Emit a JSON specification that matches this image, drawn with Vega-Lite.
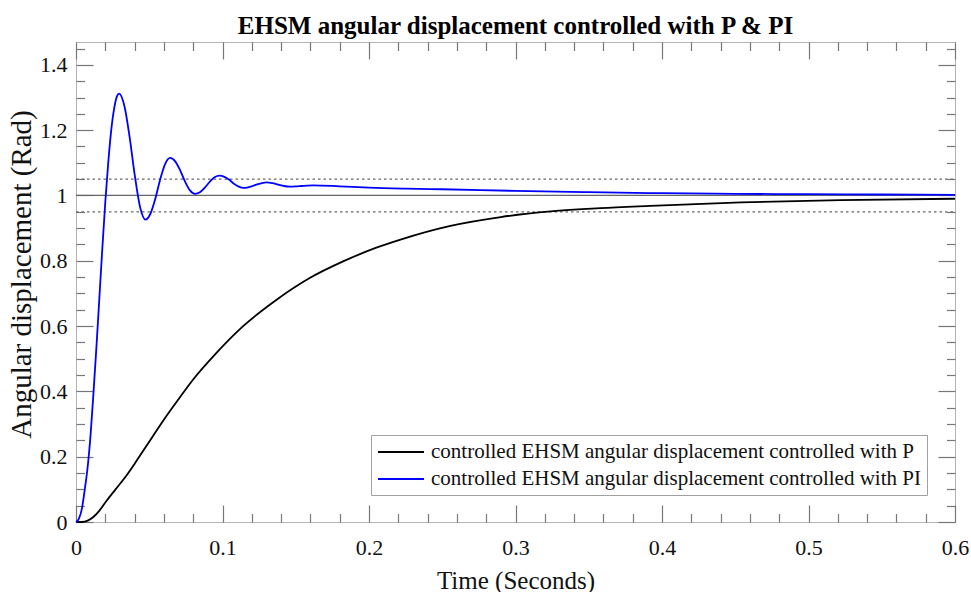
{
  "$schema": "https://vega.github.io/schema/vega-lite/v6.json",
  "width": 879,
  "height": 480,
  "autosize": "none",
  "padding": {"left": 76, "top": 42, "right": 16, "bottom": 70},
  "background": "white",
  "config": {"view": {"stroke": "#b4b4b4", "strokeWidth": 1}, "font": "Liberation Serif"},
  "title": {"text": "EHSM angular displacement controlled with P & PI", "font": "Liberation Serif", "fontSize": 25, "fontWeight": "bold", "color": "#000000", "anchor": "middle", "baseline": "alphabetic", "offset": 9, "dy": 30},
  "datasets": {
    "refs": [
      {"v": 0.95, "style": "dotted"},
      {"v": 1.0, "style": "solid"},
      {"v": 1.05, "style": "dotted"}
    ],
    "curves": [
      {"s": "P", "t": 0, "v": 0},
      {"s": "P", "t": 0.004, "v": 0},
      {"s": "P", "t": 0.008, "v": 0.004},
      {"s": "P", "t": 0.012, "v": 0.016},
      {"s": "P", "t": 0.016, "v": 0.035},
      {"s": "P", "t": 0.0205, "v": 0.063},
      {"s": "P", "t": 0.027, "v": 0.1},
      {"s": "P", "t": 0.0342, "v": 0.141},
      {"s": "P", "t": 0.041, "v": 0.185},
      {"s": "P", "t": 0.0478, "v": 0.231},
      {"s": "P", "t": 0.0615, "v": 0.323},
      {"s": "P", "t": 0.07, "v": 0.376},
      {"s": "P", "t": 0.0797, "v": 0.435},
      {"s": "P", "t": 0.0957, "v": 0.517},
      {"s": "P", "t": 0.1139, "v": 0.599},
      {"s": "P", "t": 0.1367, "v": 0.68},
      {"s": "P", "t": 0.1595, "v": 0.747},
      {"s": "P", "t": 0.1823, "v": 0.798},
      {"s": "P", "t": 0.205, "v": 0.84},
      {"s": "P", "t": 0.2215, "v": 0.865},
      {"s": "P", "t": 0.2556, "v": 0.907},
      {"s": "P", "t": 0.29, "v": 0.934},
      {"s": "P", "t": 0.324, "v": 0.951},
      {"s": "P", "t": 0.358, "v": 0.961},
      {"s": "P", "t": 0.392, "v": 0.968},
      {"s": "P", "t": 0.454, "v": 0.979},
      {"s": "P", "t": 0.522, "v": 0.986},
      {"s": "P", "t": 0.6, "v": 0.99},
      {"s": "PI", "t": 0, "v": 0},
      {"s": "PI", "t": 0.002, "v": 0.01},
      {"s": "PI", "t": 0.004, "v": 0.04},
      {"s": "PI", "t": 0.006, "v": 0.1},
      {"s": "PI", "t": 0.008, "v": 0.17},
      {"s": "PI", "t": 0.01, "v": 0.27},
      {"s": "PI", "t": 0.012, "v": 0.4},
      {"s": "PI", "t": 0.014, "v": 0.54},
      {"s": "PI", "t": 0.016, "v": 0.69},
      {"s": "PI", "t": 0.018, "v": 0.84},
      {"s": "PI", "t": 0.02, "v": 0.98},
      {"s": "PI", "t": 0.022, "v": 1.1},
      {"s": "PI", "t": 0.024, "v": 1.198},
      {"s": "PI", "t": 0.026, "v": 1.265},
      {"s": "PI", "t": 0.028, "v": 1.304},
      {"s": "PI", "t": 0.0294, "v": 1.312},
      {"s": "PI", "t": 0.033, "v": 1.275},
      {"s": "PI", "t": 0.0366, "v": 1.179},
      {"s": "PI", "t": 0.0402, "v": 1.059},
      {"s": "PI", "t": 0.0438, "v": 0.963},
      {"s": "PI", "t": 0.0474, "v": 0.926},
      {"s": "PI", "t": 0.0508, "v": 0.944},
      {"s": "PI", "t": 0.0542, "v": 0.991},
      {"s": "PI", "t": 0.0575, "v": 1.05},
      {"s": "PI", "t": 0.0609, "v": 1.097},
      {"s": "PI", "t": 0.0643, "v": 1.115},
      {"s": "PI", "t": 0.0677, "v": 1.1045},
      {"s": "PI", "t": 0.0711, "v": 1.077},
      {"s": "PI", "t": 0.0744, "v": 1.043},
      {"s": "PI", "t": 0.0778, "v": 1.0155},
      {"s": "PI", "t": 0.0812, "v": 1.005},
      {"s": "PI", "t": 0.0846, "v": 1.01},
      {"s": "PI", "t": 0.0879, "v": 1.024},
      {"s": "PI", "t": 0.0913, "v": 1.042},
      {"s": "PI", "t": 0.0946, "v": 1.056},
      {"s": "PI", "t": 0.098, "v": 1.061},
      {"s": "PI", "t": 0.1013, "v": 1.057},
      {"s": "PI", "t": 0.1046, "v": 1.048},
      {"s": "PI", "t": 0.1078, "v": 1.036},
      {"s": "PI", "t": 0.1111, "v": 1.027},
      {"s": "PI", "t": 0.1144, "v": 1.023},
      {"s": "PI", "t": 0.1175, "v": 1.025},
      {"s": "PI", "t": 0.1206, "v": 1.029},
      {"s": "PI", "t": 0.1238, "v": 1.034},
      {"s": "PI", "t": 0.1269, "v": 1.038},
      {"s": "PI", "t": 0.13, "v": 1.04},
      {"s": "PI", "t": 0.134, "v": 1.038},
      {"s": "PI", "t": 0.138, "v": 1.0335},
      {"s": "PI", "t": 0.142, "v": 1.029},
      {"s": "PI", "t": 0.146, "v": 1.027},
      {"s": "PI", "t": 0.15, "v": 1.0276},
      {"s": "PI", "t": 0.154, "v": 1.029},
      {"s": "PI", "t": 0.158, "v": 1.0304},
      {"s": "PI", "t": 0.162, "v": 1.031},
      {"s": "PI", "t": 0.18, "v": 1.028},
      {"s": "PI", "t": 0.2, "v": 1.024},
      {"s": "PI", "t": 0.225, "v": 1.021},
      {"s": "PI", "t": 0.25, "v": 1.019},
      {"s": "PI", "t": 0.3, "v": 1.014},
      {"s": "PI", "t": 0.35, "v": 1.01},
      {"s": "PI", "t": 0.4, "v": 1.007},
      {"s": "PI", "t": 0.45, "v": 1.005},
      {"s": "PI", "t": 0.5, "v": 1.004},
      {"s": "PI", "t": 0.55, "v": 1.003},
      {"s": "PI", "t": 0.6, "v": 1.002}
    ]
  },
  "layer": [
    {
      "data": {"name": "refs"},
      "mark": {"type": "rule", "color": "#666666", "strokeWidth": 1.3},
      "encoding": {
        "y": {
          "field": "v", "type": "quantitative",
          "scale": {"domain": [0, 1.47], "nice": false, "zero": false},
          "axis": {
            "orient": "right", "title": null, "labels": false, "domain": false, "grid": false,
            "values": [0,0.05,0.1,0.15,0.2,0.25,0.3,0.35,0.4,0.45,0.5,0.55,0.6,0.65,0.7,0.75,0.8,0.85,0.9,0.95,1,1.05,1.1,1.15,1.2,1.25,1.3,1.35,1.4,1.45],
            "tickColor": "#777777", "tickWidth": 1.2,
            "tickSize": {"condition": {"test": "abs(datum.value*5-round(datum.value*5))<0.001", "value": -17}, "value": -8.5}
          }
        },
        "x": {
          "datum": 0, "type": "quantitative",
          "scale": {"domain": [0, 0.6], "nice": false, "zero": false},
          "axis": {
            "orient": "top", "title": null, "labels": false, "domain": false, "grid": false,
            "values": [0,0.02,0.04,0.06,0.08,0.1,0.12,0.14,0.16,0.18,0.2,0.22,0.24,0.26,0.28,0.3,0.32,0.34,0.36,0.38,0.4,0.42,0.44,0.46,0.48,0.5,0.52,0.54,0.56,0.58,0.6],
            "tickColor": "#777777", "tickWidth": 1.2,
            "tickSize": {"condition": {"test": "abs(datum.value*10-round(datum.value*10))<0.001", "value": -17}, "value": -8.5}
          }
        },
        "x2": {"datum": 0.6},
        "strokeDash": {
          "field": "style", "type": "nominal",
          "scale": {"domain": ["solid", "dotted"], "range": [[1, 0], [2.5, 3]]},
          "legend": null
        }
      }
    },
    {
      "data": {"name": "curves"},
      "mark": {"type": "line", "strokeWidth": 1.8, "interpolate": "monotone"},
      "encoding": {
        "x": {
          "field": "t", "type": "quantitative",
          "scale": {"domain": [0, 0.6], "nice": false, "zero": false},
          "axis": {
            "orient": "bottom", "title": "Time (Seconds)", "domain": false, "grid": false,
            "values": [0,0.02,0.04,0.06,0.08,0.1,0.12,0.14,0.16,0.18,0.2,0.22,0.24,0.26,0.28,0.3,0.32,0.34,0.36,0.38,0.4,0.42,0.44,0.46,0.48,0.5,0.52,0.54,0.56,0.58,0.6],
            "format": "~g",
            "labelExpr": "abs(datum.value*10-round(datum.value*10))<0.001 ? datum.label : ''",
            "labelFont": "Liberation Serif", "labelFontSize": 22, "labelColor": "#111111",
            "labelPadding": 32, "labelFlush": false, "labelOverlap": false, "labelBound": false,
            "tickColor": "#777777", "tickWidth": 1.2,
            "tickSize": {"condition": {"test": "abs(datum.value*10-round(datum.value*10))<0.001", "value": -17}, "value": -8.5},
            "titleFont": "Liberation Serif", "titleFontSize": 25, "titleFontWeight": "normal", "titleColor": "#111111",
            "titleY": 46
          }
        },
        "y": {
          "field": "v", "type": "quantitative",
          "scale": {"domain": [0, 1.47], "nice": false, "zero": false},
          "axis": {
            "orient": "left", "title": "Angular displacement (Rad)", "domain": false, "grid": false,
            "values": [0,0.05,0.1,0.15,0.2,0.25,0.3,0.35,0.4,0.45,0.5,0.55,0.6,0.65,0.7,0.75,0.8,0.85,0.9,0.95,1,1.05,1.1,1.15,1.2,1.25,1.3,1.35,1.4,1.45],
            "format": "~g",
            "labelExpr": "abs(datum.value*5-round(datum.value*5))<0.001 ? datum.label : ''",
            "labelFont": "Liberation Serif", "labelFontSize": 22, "labelColor": "#111111",
            "labelPadding": 26, "labelOverlap": false, "labelBound": false, "labelFlush": false,
            "tickColor": "#777777", "tickWidth": 1.2,
            "tickSize": {"condition": {"test": "abs(datum.value*5-round(datum.value*5))<0.001", "value": -17}, "value": -8.5},
            "titleFont": "Liberation Serif", "titleFontSize": 29, "titleFontWeight": "normal", "titleColor": "#111111",
            "titleBaseline": "alphabetic", "titleX": -46, "titleY": 232
          }
        },
        "color": {
          "field": "s", "type": "nominal",
          "scale": {"domain": ["P", "PI"], "range": ["#000000", "#0000ff"]},
          "legend": {
            "orient": "none", "legendX": 295, "legendY": 393, "title": null,
            "symbolType": "M-1,0H3.6", "symbolSize": 400, "symbolStrokeWidth": 1.8, "labelOffset": 32,
            "labelExpr": "'controlled EHSM angular displacement controlled with ' + datum.label",
            "labelFont": "Liberation Serif", "labelFontSize": 21, "labelColor": "#111111", "labelLimit": 0,
            "strokeColor": "#a0a0a0", "fillColor": "#ffffff", "padding": 6, "rowPadding": 6
          }
        }
      }
    }
  ],
  "resolve": {"axis": {"x": "independent", "y": "independent"}}
}
